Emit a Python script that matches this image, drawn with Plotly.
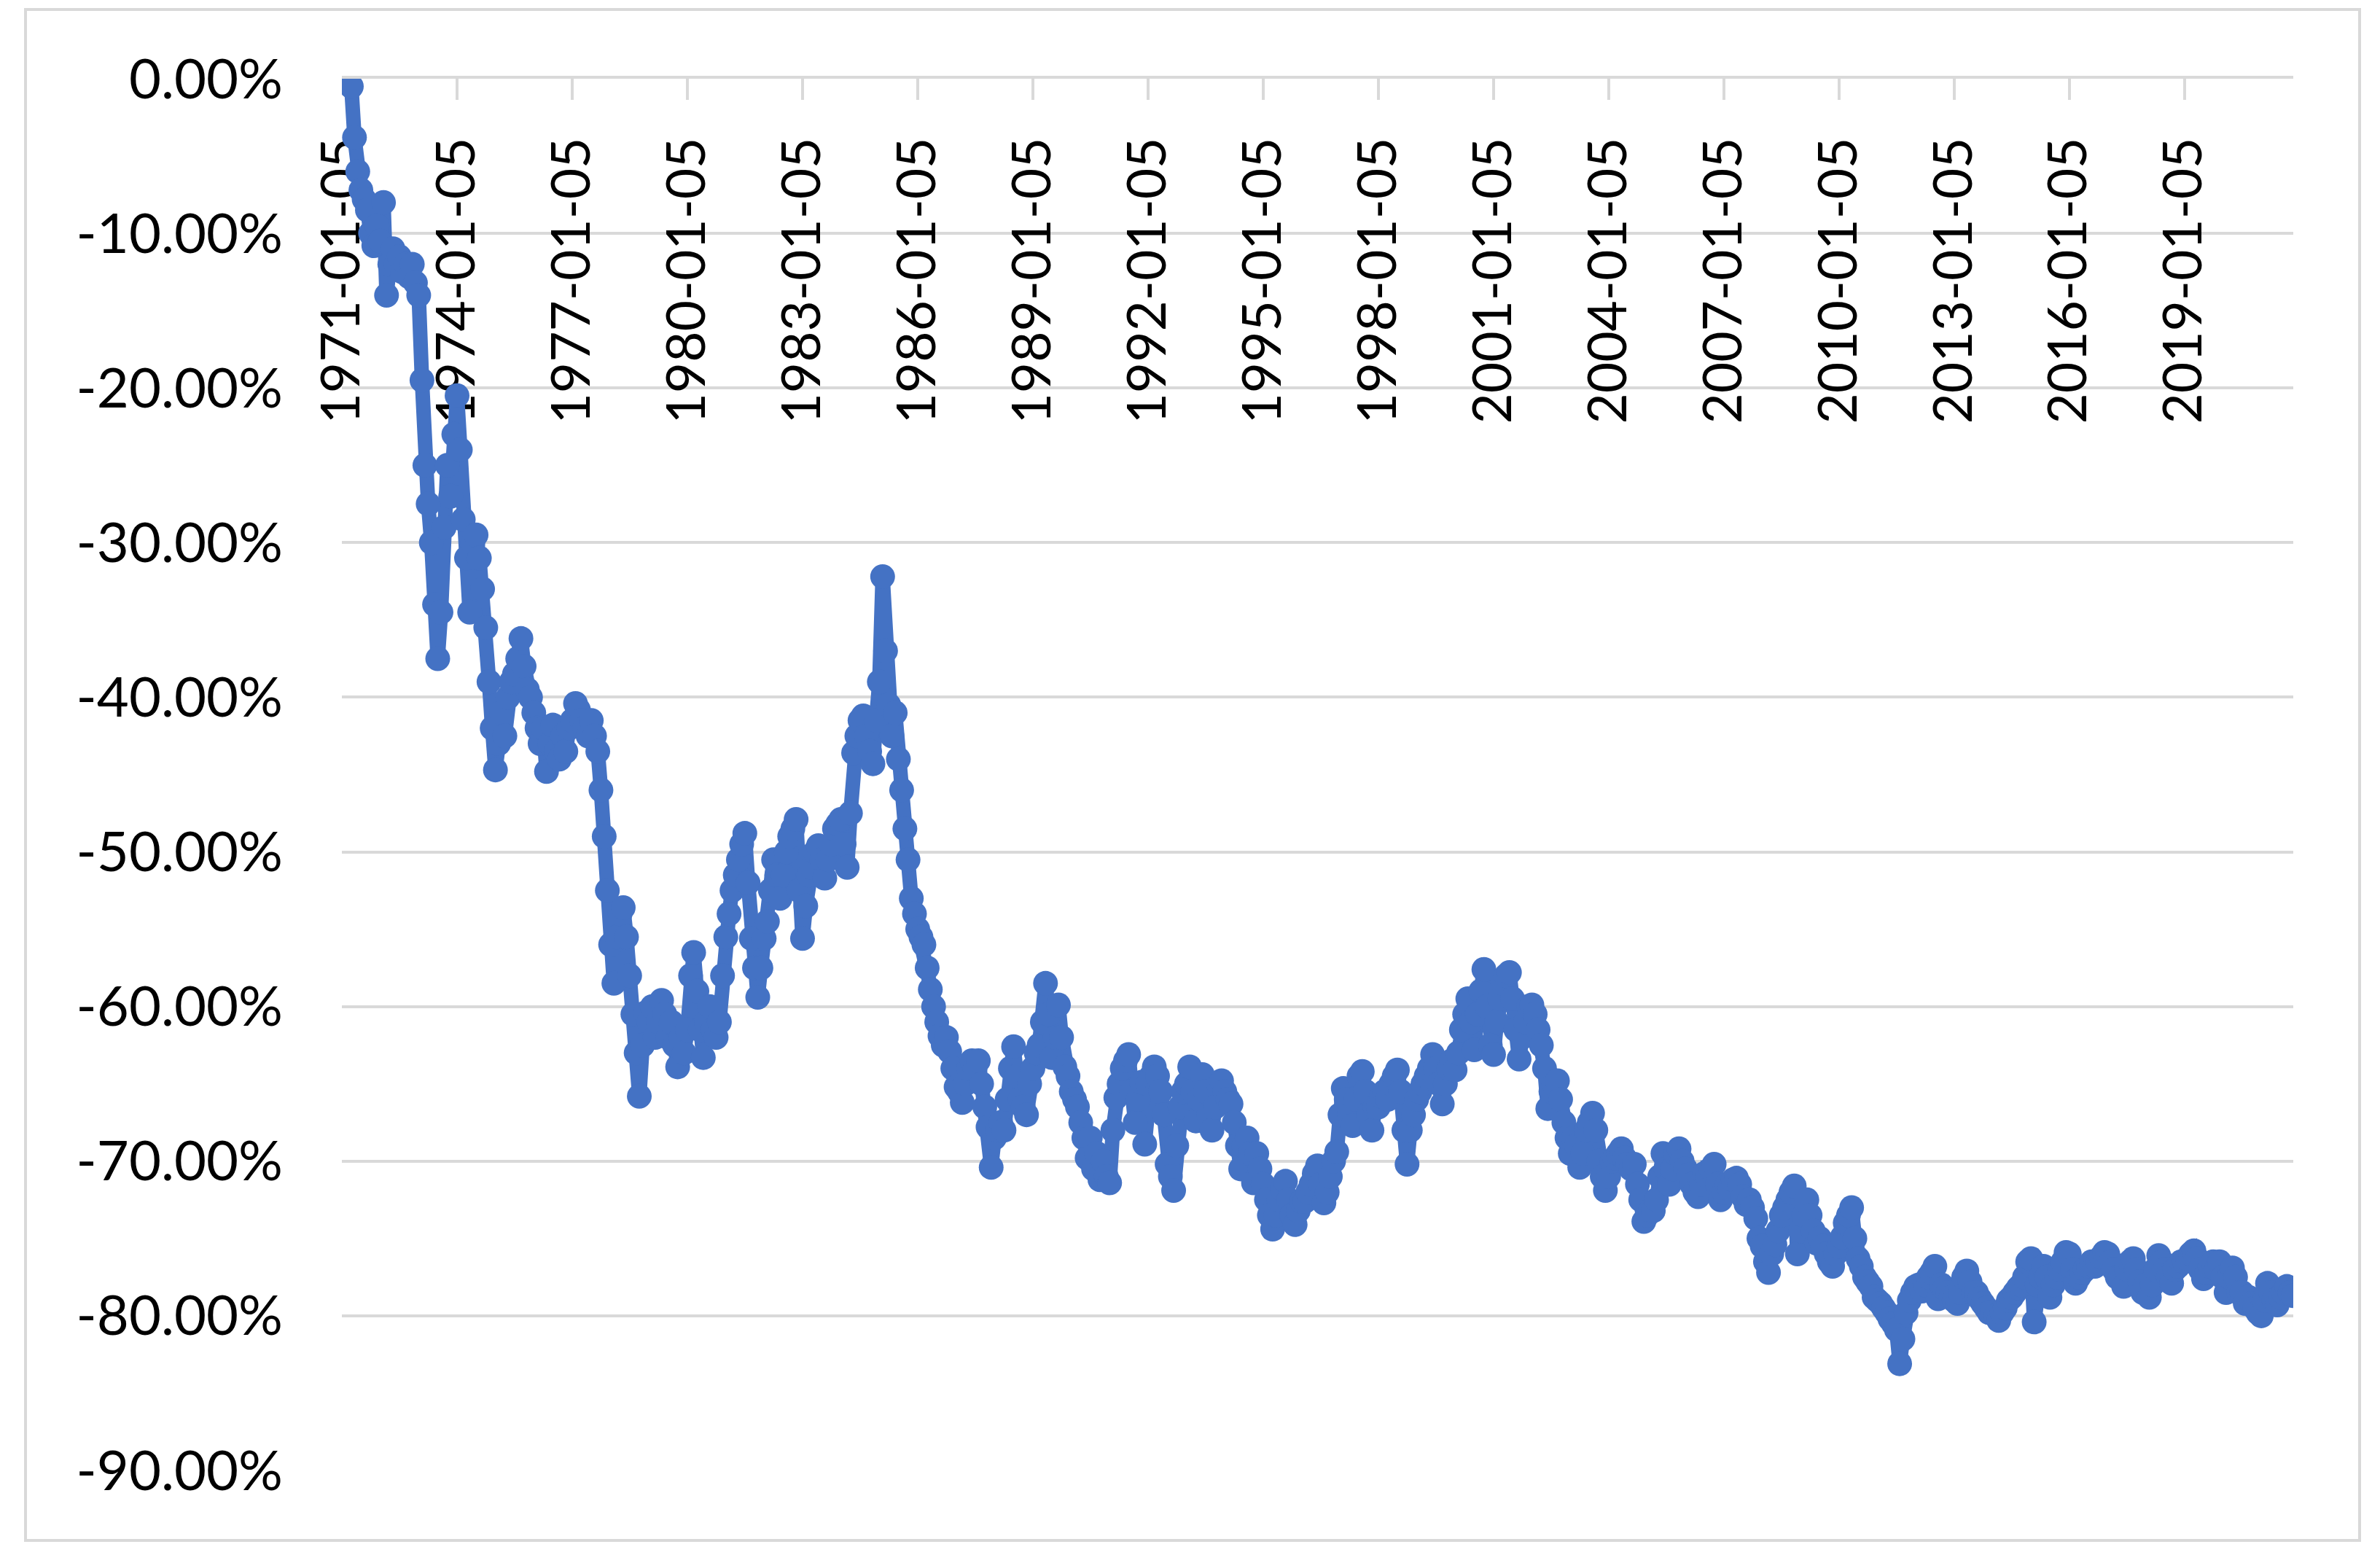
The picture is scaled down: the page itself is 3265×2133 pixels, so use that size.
import pandas as pd
import plotly.graph_objects as go

# Monthly drawdown values (%), Jan..Dec per year
dd_1971_1979 = [
    0.0, 0.0, -0.3, -0.5, -3.8, -6.0, -7.2, -7.8, -8.5, -10.0, -10.8, -9.5,
    -10.5, -8.0, -14.0, -12.0, -11.0, -12.0, -11.5, -12.5, -12.0, -12.8, -12.0, -13.2,
    -14.0, -19.5, -25.0, -27.5, -30.0, -34.0, -37.5, -34.5, -29.0, -25.0, -27.0, -23.0,
    -20.5, -24.0, -28.5, -31.0, -34.5, -30.0, -29.5, -31.0, -33.0, -35.5, -39.0, -42.0,
    -44.7, -43.0, -41.0, -42.5, -40.0, -39.0, -38.5, -37.5, -36.2, -38.0, -39.5, -40.0,
    -41.0, -42.0, -43.0, -42.0, -44.8, -43.0, -41.8, -43.5, -44.0, -42.5, -43.5, -42.0,
    -41.5, -40.4, -40.8, -41.5, -42.0, -42.5, -41.5, -42.5, -43.5, -46.0, -49.0, -52.5,
    -56.0, -58.5, -55.5, -54.0, -53.6, -55.5, -58.0, -60.5, -63.0, -65.8, -62.5, -60.4,
    -61.0, -60.0, -62.0, -61.0, -59.6, -60.5, -62.0, -61.0, -62.5, -63.9, -62.0, -63.0,
]
dd_1980s = [
    -61.5, -58.0, -56.5, -59.0, -61.5, -63.3, -61.0, -60.0, -61.5, -62.0, -61.0, -58.0,
    -55.5, -54.0, -52.5, -51.5, -50.5, -49.5, -48.8, -52.0, -55.6, -57.5, -59.4, -57.5,
    -55.6, -54.5, -52.5, -50.5, -51.5, -53.0, -51.5, -50.0, -49.0, -48.5, -47.9, -52.5,
    -55.6, -53.5, -51.5, -51.0, -50.0, -49.6, -50.5, -51.7, -50.5, -49.5, -48.5, -48.2,
    -47.9, -49.5, -51.0, -47.5, -43.6, -42.5, -41.5, -41.2, -42.5, -43.5, -44.3, -41.5,
    -39.0, -32.2, -37.0, -40.5, -42.5, -41.0, -44.0, -46.0, -48.5, -50.5, -53.0, -54.0,
    -55.0, -55.5, -56.0, -57.5, -58.9, -60.0, -61.0, -61.9, -62.5, -62.0, -62.9, -64.0,
    -65.2, -65.5, -66.2, -65.0, -64.0, -63.5, -64.0, -63.5, -65.0, -66.5, -67.8, -70.4,
    -68.5, -68.0, -67.5, -68.0, -66.0, -64.0, -62.6, -64.5, -66.0, -66.5, -67.0, -65.0,
    -64.0, -63.0, -62.5, -61.0, -58.5, -60.5, -63.3, -62.0, -59.9, -62.0, -63.9, -64.5,
]
dd_1990s = [
    -65.5, -66.0, -66.5, -67.5, -68.5, -69.8, -68.5, -70.5, -69.5, -71.2, -70.0, -71.0,
    -71.4, -68.0, -65.9, -65.0, -64.0, -63.5, -63.1, -65.5, -67.5, -66.0, -64.9, -68.9,
    -65.0, -64.5, -63.9, -64.5, -65.5, -67.0, -70.2, -71.0, -71.9, -69.0, -66.5, -65.5,
    -65.0, -63.9, -65.5, -67.4, -66.0, -64.4, -65.5, -67.0, -68.0, -66.5, -65.0, -64.8,
    -65.5, -66.0, -66.3, -67.5, -69.0, -70.5, -69.0, -68.5, -69.5, -71.4, -69.5, -70.5,
    -71.5, -72.5, -73.5, -74.4, -73.5, -72.5, -71.8, -71.3, -72.5, -73.5, -74.1, -73.2,
    -72.6, -72.6, -72.0, -71.5, -70.8, -70.3, -71.5, -72.7, -72.0, -71.0, -70.0, -69.4,
    -67.0, -65.3, -66.0, -67.0, -67.7, -66.0, -64.5, -64.2, -65.5, -67.0, -68.0, -66.5,
    -66.5, -65.8, -65.5, -66.0, -65.0, -64.5, -64.1, -65.5, -68.0, -70.2, -68.0, -67.0,
    -66.0, -65.5, -65.0, -64.5, -64.0, -63.1, -64.0, -65.0, -66.3, -65.0, -64.0, -63.5,
]
dd_2000s = [
    -64.1, -63.0, -61.5, -60.5, -59.5, -61.0, -62.8, -60.5, -59.0, -57.6, -60.0, -62.5,
    -63.1, -61.0, -59.5, -58.5, -58.0, -57.8, -59.5, -61.5, -63.4, -62.0, -61.0, -60.0,
    -59.9, -60.5, -61.5, -62.5, -64.0, -66.6, -65.5, -65.0, -64.8, -66.0, -67.5, -68.5,
    -69.5, -68.5, -69.0, -70.4, -69.5, -68.0, -67.5, -66.9, -68.0, -70.0, -71.0, -71.9,
    -71.0, -70.0, -69.8, -69.5, -69.2, -69.8, -70.2, -70.5, -70.2, -71.5, -72.5, -73.9,
    -73.5, -73.2, -73.2, -72.5, -71.0, -69.5, -70.5, -71.5, -70.5, -69.5, -69.2, -70.0,
    -70.5, -70.9, -71.5, -72.0, -72.3, -71.5, -70.8, -71.0, -70.5, -70.2, -71.5, -72.5,
    -72.0, -71.5, -71.8, -71.2, -71.1, -71.5, -72.3, -72.8, -72.5, -73.0, -73.7, -75.0,
    -75.5, -76.5, -77.2, -76.0, -75.4, -74.5, -73.5, -73.0, -72.5, -72.0, -71.6, -76.0,
    -74.5, -73.5, -72.5, -73.5, -74.5, -75.3, -75.0, -75.5, -76.0, -76.5, -76.8, -76.0,
]
dd_2010s = [
    -75.5, -74.9, -74.0, -73.5, -73.0, -75.0, -76.3, -76.8, -77.5, -77.8, -78.1, -78.8,
    -79.0, -79.2, -79.5, -79.8, -80.2, -80.5, -80.9, -83.1, -81.5, -79.8, -79.0, -78.5,
    -78.1, -78.0, -78.4, -78.0, -77.5, -77.2, -76.8, -78.9, -78.0, -78.2, -78.5, -78.8,
    -79.0, -79.2, -78.5, -77.5, -77.1, -77.8, -78.5, -78.5, -78.9, -79.2, -79.5, -79.8,
    -79.8, -80.0, -80.3, -79.8, -79.5, -79.0, -78.8, -78.5, -78.2, -78.0, -77.5, -76.5,
    -76.3, -80.4, -78.0, -77.5, -76.8, -77.5, -78.8, -78.0, -77.5, -77.0, -76.5, -75.9,
    -76.0, -77.0, -77.9, -77.5, -77.2, -77.0, -76.8, -76.5, -76.8, -76.5, -76.2, -75.9,
    -76.0, -76.5, -77.0, -77.5, -77.5, -78.1, -77.0, -76.5, -76.3, -77.0, -77.8, -78.5,
    -78.0, -78.8, -78.0, -77.0, -76.1, -76.5, -77.0, -77.5, -77.9, -77.0, -76.8, -76.5,
    -76.5, -76.3, -76.0, -75.8, -76.3, -77.0, -77.6, -77.2, -76.8, -76.5, -77.0, -76.5,
]
dd_2020s = [
    -77.5, -78.5, -77.5, -76.9, -77.5, -78.5, -78.5, -79.2, -78.8, -79.2, -79.5, -79.8,
    -80.0, -79.0, -77.9, -78.5, -79.0, -79.3, -78.8, -78.5, -78.1, -78.5, -78.7,
]

values = dd_1971_1979 + dd_1980s + dd_1990s + dd_2000s + dd_2010s + dd_2020s
first_date = "1971-01-05"
dates = pd.date_range("1971-01-01", periods=len(values), freq="MS") + pd.Timedelta(days=4)

y_tick_values = [0, -10, -20, -30, -40, -50, -60, -70, -80, -90]
y_tick_labels = ["0.00%", "-10.00%", "-20.00%", "-30.00%", "-40.00%",
                 "-50.00%", "-60.00%", "-70.00%", "-80.00%", "-90.00%"]

BLUE = "#4472C4"
GRID = "#D9D9D9"
FONT = "Lato"
FSIZE = 73

W, H = 3265, 2133
OFF = 8  # default page body margin
L, R, T, B = 469 - OFF, 3146 - OFF, 108 - OFF, 2017 - OFF

fig = go.Figure()
fig.add_trace(go.Scatter(
    x=dates, y=values, mode="lines+markers",
    line=dict(color=BLUE, width=20),
    marker=dict(color=BLUE, size=34),
    showlegend=False, hoverinfo="skip",
))

pw, ph = R - L, B - T
fig.add_shape(type="rect", xref="paper", yref="paper",
              x0=(35 - OFF - L) / pw, x1=(3237 - OFF - L) / pw,
              y0=(B - (2113 - OFF)) / ph, y1=(B - (13 - OFF)) / ph,
              line=dict(color=GRID, width=4), fillcolor="rgba(0,0,0,0)", layer="below")

fig.update_layout(
    width=W, height=H,
    margin=dict(l=L, r=W - R, t=T, b=H - B, pad=0),
    paper_bgcolor="white", plot_bgcolor="white",
    font=dict(family=FONT, size=FSIZE, color="black"),
)
fig.update_xaxes(
    type="date", range=[dates[0], dates[-1]],
    side="top", tick0=first_date, dtick="M36", tickformat="%Y-%m-%d",
    tickangle=-90, ticklabelposition="inside", ticklabelstandoff=23,
    ticklabeloverflow="allow",
    ticks="inside", ticklen=29, tickwidth=4, tickcolor=GRID,
    showline=True, linecolor=GRID, linewidth=4,
    showgrid=False, zeroline=False, layer="below traces",
    tickfont=dict(family=FONT, size=FSIZE, color="black"),
)
fig.update_yaxes(
    range=[-90, 0], tickvals=y_tick_values, ticktext=y_tick_labels,
    showgrid=True, gridcolor=GRID, gridwidth=4,
    zeroline=False, showline=False, ticks="", ticklabelstandoff=80,
    ticklabeloverflow="allow",
    tickfont=dict(family=FONT, size=FSIZE + 3, color="black"),
)

fig.write_html("out.html")
